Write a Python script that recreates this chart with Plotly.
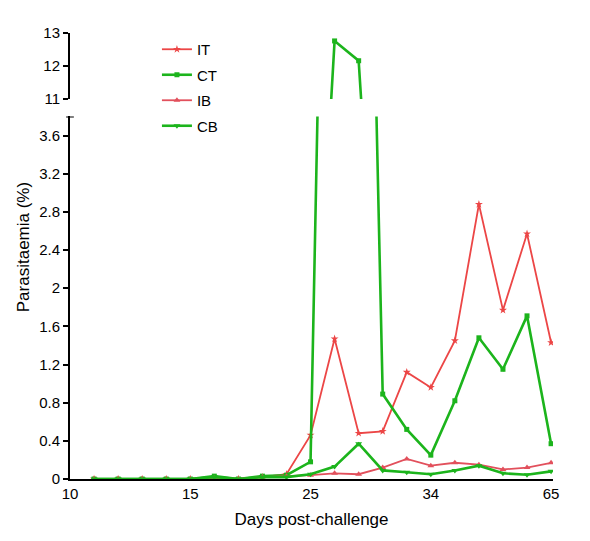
import plotly.graph_objects as go

# ---- data ----
sample_index = [1, 2, 3, 4, 5, 6, 7, 8, 9, 10, 11, 12, 13, 14, 15, 16, 17, 18, 19, 20]
tick_positions = [0, 5, 10, 15, 20]
tick_labels = ["10", "15", "25", "34", "65"]

IT = [0, 0, 0, 0, 0, 0.01, 0, 0.02, 0.05, 0.46, 1.47, 0.48, 0.50, 1.12, 0.96, 1.45, 2.88, 1.77, 2.57, 1.43]
CT = [0, 0, 0, 0, 0, 0.03, 0, 0.03, 0.04, 0.18, 12.76, 12.16, 0.89, 0.52, 0.25, 0.82, 1.48, 1.15, 1.71, 0.37]
IB = [0, 0, 0, 0, 0, 0.01, 0, 0.02, 0.03, 0.04, 0.06, 0.05, 0.12, 0.21, 0.14, 0.17, 0.15, 0.10, 0.12, 0.17]
CB = [0, 0, 0, 0, 0, 0.02, 0, 0.02, 0.02, 0.05, 0.13, 0.37, 0.09, 0.07, 0.05, 0.09, 0.14, 0.06, 0.045, 0.08]

series = [
    ("IT", IT, "#EC4646", 1.8, "star", 6),
    ("CT", CT, "#1CB41C", 2.6, "square", 5),
    ("IB", IB, "#E2505C", 1.8, "triangle-up", 6),
    ("CB", CB, "#1CB41C", 2.6, "triangle-down", 6),
]

FONT = "Liberation Sans, Arial, sans-serif"

fig = go.Figure()
for name, vals, color, lw, sym, ms in series:
    for yax, show in (("y", True), ("y2", False)):
        fig.add_trace(go.Scatter(
            x=sample_index, y=vals, name=name, mode="lines+markers",
            line=dict(color=color, width=lw),
            marker=dict(symbol=sym, size=ms, color=color),
            xaxis="x", yaxis=yax, showlegend=show, legendgroup=name,
        ))

axis_common = dict(
    showline=True, linecolor="black", linewidth=2, showgrid=False, zeroline=False,
    ticks="outside", ticklen=5, tickwidth=2, tickcolor="black", automargin=False,
    tickfont=dict(family=FONT, size=15, color="black"),
)

# page has an 8px body margin, so the figure is drawn 8px in from the top-left
fig.update_layout(
    width=582, height=533,
    margin=dict(l=62, r=37, t=25, b=62),
    paper_bgcolor="white", plot_bgcolor="white",
    font=dict(family=FONT, color="black"),
    xaxis=dict(
        range=[0, 20.08], showline=True, linecolor="black", linewidth=2,
        showgrid=False, zeroline=False, ticks="", automargin=False,
        tickvals=tick_positions, ticktext=tick_labels,
        tickfont=dict(family=FONT, size=15, color="black"),
        title=dict(text="Days post-challenge", font=dict(family=FONT, size=17, color="black"), standoff=12),
        anchor="y",
    ),
    yaxis=dict(
        domain=[0, 0.8129], range=[0, 3.8], tickvals=[0, 0.4, 0.8, 1.2, 1.6, 2, 2.4, 2.8, 3.2, 3.6],
        ticktext=["0", "0.4", "0.8", "1.2", "1.6", "2", "2.4", "2.8", "3.2", "3.6"],
        anchor="x", **axis_common,
    ),
    yaxis2=dict(
        domain=[0.8519, 1.0], range=[11, 13], tickvals=[11, 12, 13],
        anchor="x", **axis_common,
    ),
    legend=dict(
        x=0.18, y=1.0, xanchor="left", yanchor="top",
        font=dict(family=FONT, size=15, color="black"),
        bgcolor="rgba(0,0,0,0)", traceorder="grouped", tracegroupgap=3,
    ),
    showlegend=True,
)

# cap at the top of the lower axis segment
fig.add_shape(type="line", xref="paper", yref="y", x0=-0.008, x1=0.008, y0=3.8, y1=3.8,
              line=dict(color="black", width=2))

# y axis title
fig.add_annotation(text="Parasitaemia (%)", xref="paper", yref="paper", x=-0.097, y=0.52,
                   xanchor="center", yanchor="middle",
                   textangle=-90, showarrow=False,
                   font=dict(family=FONT, size=17, color="black"))

fig.write_html("out.html")
